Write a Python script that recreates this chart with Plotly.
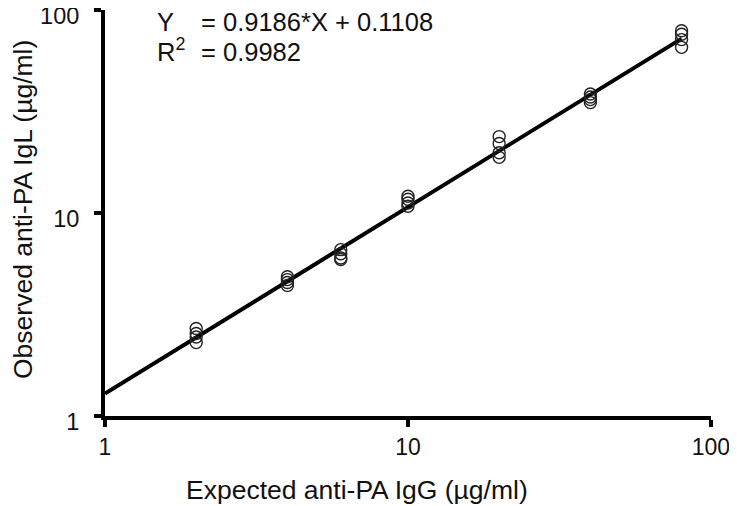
import plotly.graph_objects as go

# expected concentration (ug/ml) and replicate observed values
expected = [2, 2, 2, 2,
            4, 4, 4, 4,
            6, 6, 6, 6,
            10, 10, 10, 10,
            20, 20, 20, 20,
            40, 40, 40, 40,
            80, 80, 80, 80]
observed = [2.3, 2.45, 2.55, 2.7,
            4.4, 4.55, 4.7, 4.85,
            5.9, 6.0, 6.3, 6.6,
            10.8, 11.2, 11.7, 12.1,
            18.8, 19.8, 22.0, 23.8,
            35.0, 36.2, 37.3, 38.6,
            65.5, 71.5, 76.0, 79.0]

# log-log regression reported on the chart
fit_slope = 0.9186
fit_intercept = 0.1108
fit_r2 = 0.9982
fit_x = [1, 80]

tick_vals = [1, 10, 100]
tick_text = ["1", "10", "100"]

# page body has an 8px margin, so the figure is shrunk by that much
OFF = 8
W, H = 737 - OFF, 506 - OFF
L, R, T, B = 97, 26, 2, 90
pw, ph = W - L - R, H - T - B
FONT = "Arial, Liberation Sans, sans-serif"


def px(x):
    # page pixel -> paper coordinate
    return (x - OFF - L) / pw


def py(y):
    return (H - B - (y - OFF)) / ph


fit_y = [10 ** fit_intercept * x ** fit_slope for x in fit_x]

fig = go.Figure()
fig.add_trace(go.Scatter(
    x=fit_x, y=fit_y, mode="lines",
    line=dict(color="black", width=4),
    hoverinfo="skip"
))
fig.add_trace(go.Scatter(
    x=expected, y=observed, mode="markers",
    marker=dict(symbol="circle-open", size=12, color="#222222",
                line=dict(width=1.4, color="#222222"))
))

axis_style = dict(
    type="log", range=[0, 2.0002], tickvals=tick_vals, ticktext=tick_text,
    showgrid=False, zeroline=False, showline=True,
    linecolor="black", linewidth=4,
    ticks="outside", ticklen=7, tickwidth=4, tickcolor="black",
    ticklabeloverflow="allow", automargin=False,
)
fig.update_xaxes(**axis_style, ticklabelstandoff=0,
                 tickfont=dict(family=FONT, size=23, color="#111111"))
fig.update_yaxes(**axis_style, ticklabelstandoff=10, ticklabelshift=6,
                 tickfont=dict(family=FONT, size=23.5, color="#111111"))

title_font = dict(family=FONT, size=26.5, color="#111111")
eq_font = dict(family=FONT, size=25.5, color="#111111")
annotations = [
    dict(text="Expected anti-PA IgG (µg/ml)", x=px(357), y=py(490), font=title_font),
    dict(text="Observed anti-PA IgL (µg/ml)", x=px(23), y=py(210), textangle=-90,
         font=title_font),
    dict(text="Y", x=px(156), y=py(22), xanchor="left"),
    dict(text=f"= {fit_slope}*X + {fit_intercept}", x=px(200), y=py(22), xanchor="left"),
    dict(text="R<sup>2</sup>", x=px(156), y=py(50), xanchor="left"),
    dict(text=f"= {fit_r2}", x=px(200), y=py(52), xanchor="left"),
]
for a in annotations:
    a.update(xref="paper", yref="paper", showarrow=False, borderpad=0)
    a.setdefault("font", eq_font)
    a.setdefault("xanchor", "center")
    a.setdefault("yanchor", "middle")

fig.update_layout(
    width=W, height=H,
    margin=dict(l=L, r=R, t=T, b=B, autoexpand=False),
    showlegend=False,
    plot_bgcolor="white", paper_bgcolor="white",
    annotations=annotations,
)
fig.write_html("out.html")
